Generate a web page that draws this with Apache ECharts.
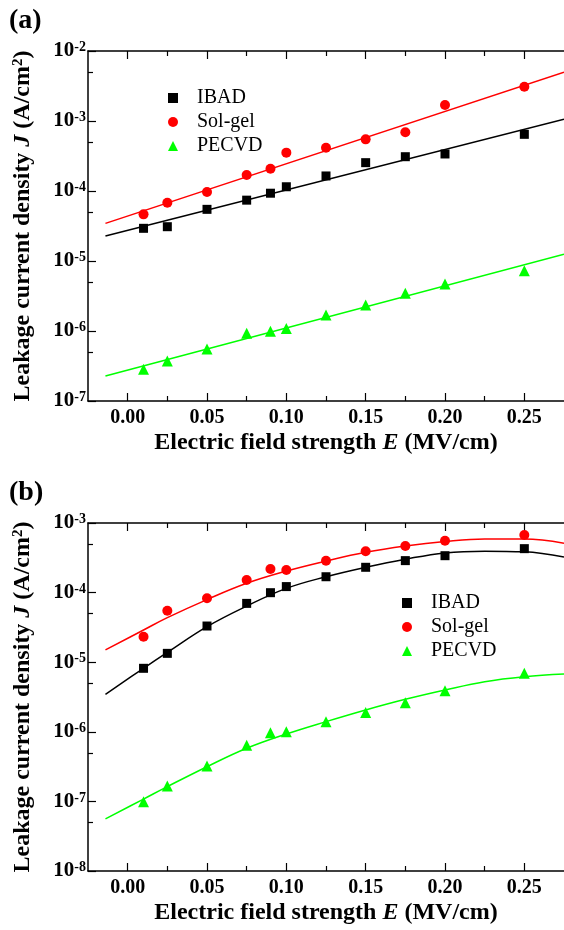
<!DOCTYPE html>
<html>
<head>
<meta charset="utf-8">
<script src="https://cdn.jsdelivr.net/npm/echarts@6/dist/echarts.min.js"></script>
<style>
  html, body { margin: 0; padding: 0; background: #fff; }
  #chart { width: 564px; height: 930px; }
</style>
</head>
<body>
<div id="chart"></div>
<script>
// measured field values (MV/cm)
const xPoints = [0.01, 0.025, 0.05, 0.075, 0.09, 0.10, 0.125, 0.15, 0.175, 0.20, 0.25];
const xTicks = [0, 0.05, 0.10, 0.15, 0.20, 0.25];
const xMinorTicks = [0.025, 0.075, 0.125, 0.175, 0.225];
const yMinorA = [5e-7, 5e-6, 5e-5, 5e-4, 5e-3];
const yMinorB = [5e-8, 5e-7, 5e-6, 5e-5, 5e-4];

// (a) data + linear fits (on log scale)
const ibadA = [2.93e-5, 3.09e-5, 5.47e-5, 7.4e-5, 9.3e-5, 1.15e-4, 1.64e-4, 2.54e-4, 3.09e-4, 3.38e-4, 6.45e-4];
const solgelA = [4.64e-5, 6.8e-5, 9.7e-5, 1.69e-4, 2.08e-4, 3.53e-4, 4.16e-4, 5.47e-4, 6.89e-4, 1.69e-3, 3.09e-3];
const pecvdA = [2.83e-7, 3.73e-7, 5.53e-7, 9.3e-7, 9.9e-7, 1.09e-6, 1.69e-6, 2.35e-6, 3.45e-6, 4.69e-6, 7.28e-6];
const fitXA = [-0.014, 0.275];
const ibadFitA = [2.28e-5, 1.06e-3];
const solgelFitA = [3.45e-5, 4.96e-3];
const pecvdFitA = [2.28e-7, 1.25e-5];

// (b) data + curved fits
const ibadB = [8.17e-6, 1.34e-5, 3.31e-5, 7.0e-5, 9.97e-5, 1.22e-4, 1.69e-4, 2.31e-4, 2.88e-4, 3.39e-4, 4.28e-4];
const solgelB = [2.32e-5, 5.5e-5, 8.28e-5, 1.52e-4, 2.18e-4, 2.11e-4, 2.87e-4, 3.92e-4, 4.67e-4, 5.57e-4, 6.73e-4];
const pecvdB = [9.9e-8, 1.66e-7, 3.23e-7, 6.4e-7, 9.7e-7, 1.0e-6, 1.4e-6, 1.9e-6, 2.62e-6, 3.89e-6, 6.92e-6];
const fitXB = [-0.014, 0.01, 0.025, 0.05, 0.075, 0.10, 0.125, 0.15, 0.175, 0.20, 0.225, 0.25, 0.275];
const ibadFitB = [3.46e-6, 8.17e-6, 1.38e-5, 3.24e-5, 6.4e-5, 1.15e-4, 1.69e-4, 2.31e-4, 3.02e-4, 3.72e-4, 3.94e-4, 3.85e-4, 3.24e-4];
const solgelFitB = [1.5e-5, 2.9e-5, 4.37e-5, 7.94e-5, 1.36e-4, 2.04e-4, 2.84e-4, 3.8e-4, 4.68e-4, 5.43e-4, 5.89e-4, 5.89e-4, 5.13e-4];
const pecvdFitB = [5.6e-8, 1.08e-7, 1.63e-7, 3.15e-7, 5.8e-7, 9.3e-7, 1.4e-6, 2.06e-6, 2.93e-6, 3.99e-6, 5.25e-6, 6.19e-6, 6.76e-6];

const FONT = 'Liberation Serif';
const BLACK = '#000000', RED = '#ff0000', GREEN = '#00ff00';

const zip = (xs, ys) => xs.map((x, i) => [x, ys[i]]);

function xAxesFor(g) {
  const base = { gridIndex: g, type: 'value', min: -0.025, max: 0.275, splitLine: { show: false } };
  return [
    Object.assign({}, base, {
      position: 'bottom',
      axisLine: { show: true, onZero: false, lineStyle: { color: BLACK, width: 1.5 } },
      axisTick: { inside: true, length: 8, customValues: xTicks, lineStyle: { color: BLACK, width: 1.2 } },
      axisLabel: {
        customValues: xTicks, margin: 7, color: BLACK, fontFamily: FONT, fontWeight: 'bold', fontSize: 20,
        formatter: v => v.toFixed(2)
      },
      name: 'Electric field strength {i|E} (MV/cm)',
      nameLocation: 'middle', nameGap: 30,
      nameTextStyle: {
        color: BLACK, fontFamily: FONT, fontWeight: 'bold', fontSize: 24,
        rich: { i: { fontFamily: FONT, fontWeight: 'bold', fontStyle: 'italic', fontSize: 24, color: BLACK } }
      }
    }),
    Object.assign({}, base, {
      position: 'bottom', axisLine: { show: false, onZero: false }, axisLabel: { show: false },
      axisTick: { inside: true, length: 5, customValues: xMinorTicks, lineStyle: { color: BLACK, width: 1.2 } }
    }),
    Object.assign({}, base, {
      position: 'top', axisLabel: { show: false },
      axisLine: { show: true, onZero: false, lineStyle: { color: BLACK, width: 1.5 } },
      axisTick: { inside: true, length: 8, customValues: xTicks, lineStyle: { color: BLACK, width: 1.2 } }
    }),
    Object.assign({}, base, {
      position: 'top', axisLine: { show: false, onZero: false }, axisLabel: { show: false },
      axisTick: { inside: true, length: 5, customValues: xMinorTicks, lineStyle: { color: BLACK, width: 1.2 } }
    })
  ];
}

function yAxesFor(g, min, max, minors) {
  const base = { gridIndex: g, type: 'log', logBase: 10, min: min, max: max, position: 'left', splitLine: { show: false } };
  return [
    Object.assign({}, base, {
      interval: 1,
      axisLine: { show: true, onZero: false, lineStyle: { color: BLACK, width: 1.5 } },
      axisTick: { inside: true, length: 8, lineStyle: { color: BLACK, width: 1.2 } },
      axisLabel: {
        margin: 2, color: BLACK,
        formatter: v => '{b|10}{s|' + Math.round(Math.log10(v)) + '}',
        rich: {
          b: { fontFamily: FONT, fontWeight: 'bold', fontSize: 21, color: BLACK },
          s: { fontFamily: FONT, fontWeight: 'bold', fontSize: 14, color: BLACK, verticalAlign: 'top' }
        }
      },
      name: 'Leakage current density {i|J} (A/cm{s|2})',
      nameLocation: 'middle', nameGap: 53,
      nameTextStyle: {
        color: BLACK, fontFamily: FONT, fontWeight: 'bold', fontSize: 24,
        rich: {
          i: { fontFamily: FONT, fontWeight: 'bold', fontStyle: 'italic', fontSize: 24, color: BLACK },
          s: { fontFamily: FONT, fontWeight: 'bold', fontSize: 15, color: BLACK, verticalAlign: 'top' }
        }
      }
    }),
    Object.assign({}, base, {
      axisLine: { show: false, onZero: false }, axisLabel: { show: false },
      axisTick: { inside: true, length: 5, customValues: minors, lineStyle: { color: BLACK, width: 1.2 } }
    })
  ];
}

function seriesFor(g, ibad, sol, pec, fx, fi, fs, fp, smooth) {
  const ax = { xAxisIndex: g * 4, yAxisIndex: g * 2 };
  const fit = (name, color, ys) => Object.assign({
    name: name, type: 'line', data: zip(fx, ys), showSymbol: false, smooth: smooth,
    lineStyle: { color: color, width: 1.5 }, silent: true, z: 2
  }, ax);
  const pts = (name, symbol, size, color, ys) => Object.assign({
    name: name, type: 'scatter', symbol: symbol, symbolSize: size,
    itemStyle: { color: color, opacity: 1 }, data: zip(xPoints, ys), z: 3
  }, ax);
  return [
    fit('IBAD fit', BLACK, fi),
    fit('Sol-gel fit', RED, fs),
    fit('PECVD fit', GREEN, fp),
    pts('IBAD', 'rect', 9, BLACK, ibad),
    pts('Sol-gel', 'circle', 10, RED, sol),
    pts('PECVD', 'triangle', 11, GREEN, pec)
  ];
}

const legendBase = {
  orient: 'vertical', itemWidth: 10, itemHeight: 10, itemGap: 4,
  data: ['IBAD', 'Sol-gel', 'PECVD'],
  textStyle: { fontFamily: FONT, fontSize: 20, color: BLACK, padding: [0, 0, 0, 14] }
};

const chart = echarts.init(document.getElementById('chart'), null, { renderer: 'canvas' });
chart.setOption({
  animation: false,
  backgroundColor: '#ffffff',
  title: [
    { text: '(a)', left: 4, top: 2, textStyle: { fontFamily: FONT, fontWeight: 'bold', fontSize: 28, color: BLACK } },
    { text: '(b)', left: 4, top: 474, textStyle: { fontFamily: FONT, fontWeight: 'bold', fontSize: 28, color: BLACK } }
  ],
  legend: [
    Object.assign({}, legendBase, { left: 163, top: 83 }),
    Object.assign({}, legendBase, { left: 397, top: 588 })
  ],
  grid: [
    { left: 88, top: 51, width: 477, height: 350 },
    { left: 88, top: 523, width: 477, height: 348 }
  ],
  xAxis: xAxesFor(0).concat(xAxesFor(1)),
  yAxis: yAxesFor(0, 1e-7, 1e-2, yMinorA).concat(yAxesFor(1, 1e-8, 1e-3, yMinorB)),
  series: seriesFor(0, ibadA, solgelA, pecvdA, fitXA, ibadFitA, solgelFitA, pecvdFitA, false)
    .concat(seriesFor(1, ibadB, solgelB, pecvdB, fitXB, ibadFitB, solgelFitB, pecvdFitB, 0.4))
});
</script>
</body>
</html>
